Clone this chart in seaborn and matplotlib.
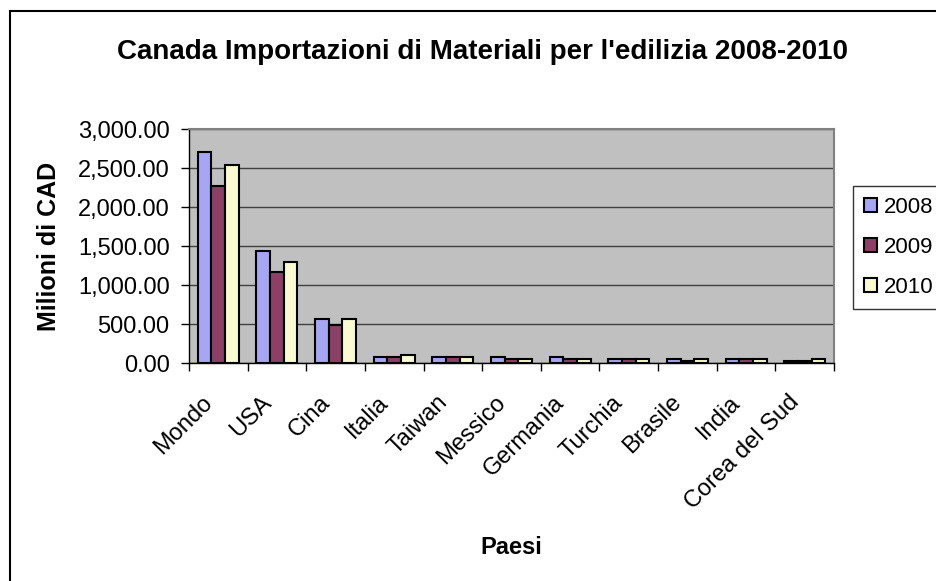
import pandas as pd
import matplotlib.pyplot as plt
import seaborn as sns
from matplotlib.patches import Rectangle
from matplotlib.ticker import FuncFormatter, FixedLocator
from matplotlib.transforms import ScaledTranslation

# Data (Milioni di CAD)
paesi = ["Mondo", "USA", "Cina", "Italia", "Taiwan", "Messico",
         "Germania", "Turchia", "Brasile", "India", "Corea del Sud"]
anni = ["2008", "2009", "2010"]
v2008 = [2710, 1440, 560, 73, 73, 73, 77, 51, 51, 51, 30]
v2009 = [2273, 1171, 491, 73, 73, 51, 47, 51, 30, 51, 30]
v2010 = [2542, 1295, 560, 103, 73, 51, 47, 51, 51, 51, 51]
colori = ["#9999FF", "#993366", "#FFFFCC"]

df = pd.DataFrame({
    "Paese": paesi * 3,
    "Anno": [a for a in anni for _ in paesi],
    "Valore": v2008 + v2009 + v2010,
})

sns.set_style("white")
plt.rcParams["font.family"] = ["Liberation Sans", "DejaVu Sans"]
plt.rcParams["text.color"] = "black"
plt.rcParams["xtick.color"] = "black"
plt.rcParams["ytick.color"] = "black"
plt.rcParams["axes.labelcolor"] = "black"

fig = plt.figure(figsize=(9.37, 5.81), dpi=100)
ax = fig.add_axes([189 / 937, 1 - 363 / 581, (834 - 189) / 937, (363 - 129) / 581])

sns.barplot(data=df, x="Paese", y="Valore", hue="Anno", palette=colori,
            width=0.7, edgecolor="black", linewidth=1.5, ax=ax, legend=True)

ax.set_facecolor("#C0C0C0")
ax.set_xlim(-0.5, len(paesi) - 0.5)
ax.set_ylim(0, 3000)
ax.set_yticks(range(0, 3001, 500))
ax.yaxis.set_major_formatter(FuncFormatter(lambda v, p: f"{v:,.2f}"))
ax.grid(axis="y", color="#404040", linewidth=1)
ax.set_axisbelow(True)

for side in ["top", "right"]:
    ax.spines[side].set_color("#808080")
    ax.spines[side].set_linewidth(1.5)
for side in ["left", "bottom"]:
    ax.spines[side].set_color("black")
    ax.spines[side].set_linewidth(1)

ax.tick_params(axis="y", which="major", direction="out", length=6, width=1,
               labelsize=17, pad=8, left=True)
ax.xaxis.set_minor_locator(FixedLocator([i - 0.5 for i in range(len(paesi) + 1)]))
ax.tick_params(axis="x", which="major", length=0, labelsize=17, pad=26)
ax.tick_params(axis="x", which="minor", direction="out", length=6, width=1,
               bottom=True)
shift = ScaledTranslation(-9 / 100, 0, fig.dpi_scale_trans)
for lab in ax.get_xticklabels():
    lab.set_rotation(45)
    lab.set_ha("right")
    lab.set_va("center")
    lab.set_rotation_mode("anchor")
    lab.set_transform(lab.get_transform() + shift)

ax.set_xlabel("Paesi", fontsize=17, fontweight="bold", va="center")
ax.xaxis.set_label_coords(0.5, -(547 - 363) / 234, transform=ax.transAxes)
ax.set_ylabel("Milioni di CAD", fontsize=18, fontweight="bold", va="center")
ax.yaxis.set_label_coords(-(189 - 49) / 645, 0.5, transform=ax.transAxes)

fig.suptitle("Canada Importazioni di Materiali per l'edilizia 2008-2010",
             x=483 / 937, y=1 - 52 / 581, va="center", fontsize=20, fontweight="bold")

handles, labels = ax.get_legend_handles_labels()
leg = ax.legend(handles, labels, loc="upper left",
                bbox_to_anchor=(853 / 937, 1 - 186 / 581), bbox_transform=fig.transFigure,
                frameon=True, fancybox=False, fontsize=16, handlelength=0.6,
                handleheight=0.6, handletextpad=0.3, labelspacing=0.85,
                borderpad=0.5, borderaxespad=0)
leg.get_frame().set_edgecolor("black")
leg.get_frame().set_linewidth(1)

# outer chart border
fig.patches.append(Rectangle((10 / 937, -0.05), 1.0, 1 - 11 / 581 + 0.05,
                             transform=fig.transFigure, fill=False,
                             edgecolor="black", linewidth=1.5))

fig.savefig("out.png", dpi=100)
